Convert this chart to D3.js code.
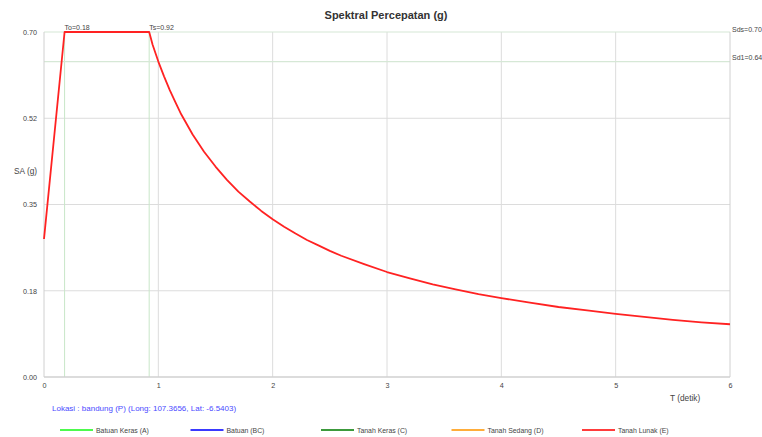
<!DOCTYPE html>
<html><head><meta charset="utf-8">
<script src="https://cdn.jsdelivr.net/npm/d3@7"></script>
<style>body{margin:0;background:#fff}svg{display:block}text{font-family:"Liberation Sans",Arial,sans-serif}</style>
</head><body>
<svg id="c" width="762" height="437"></svg>
<script>
// Data
const periodT = [0, 0.18, 0.92, 0.95, 1.0, 1.05, 1.1, 1.15, 1.2, 1.3, 1.4, 1.5, 1.6, 1.7, 1.8, 1.9, 2.0, 2.1, 2.2, 2.3, 2.4, 2.5, 2.6, 2.8, 3.0, 3.2, 3.4, 3.6, 3.8, 4.0, 4.25, 4.5, 4.75, 5.0, 5.25, 5.5, 5.75, 6.0];
const saValues = [0.28, 0.70, 0.70, 0.674, 0.64, 0.610, 0.582, 0.557, 0.533, 0.492, 0.457, 0.427, 0.400, 0.376, 0.356, 0.337, 0.320, 0.305, 0.291, 0.278, 0.267, 0.256, 0.246, 0.229, 0.213, 0.200, 0.188, 0.178, 0.168, 0.160, 0.151, 0.142, 0.135, 0.128, 0.122, 0.116, 0.111, 0.107];
const xTicks = [0, 1, 2, 3, 4, 5, 6];
const yTicks = [0, 0.175, 0.35, 0.525, 0.70];
const yTickLabels = ["0.00", "0.18", "0.35", "0.52", "0.70"];
const To = 0.18, Ts = 0.92, Sds = 0.70, Sd1 = 0.64;
const legendNames = ["Batuan Keras (A)", "Batuan (BC)", "Tanah Keras (C)", "Tanah Sedang (D)", "Tanah Lunak (E)"];
const legendColors = ["#4dfa4d", "#3a3aff", "#3c9a3c", "#ffad3a", "#ff3c3c"];
const title = "Spektral Percepatan (g)";
const locationText = "Lokasi : bandung (P) (Long: 107.3656, Lat:  -6.5403)";

const svg = d3.select("#c");
const L = 44, R = 730, T0 = 32, B = 377;
const x = d3.scaleLinear().domain([0, 6]).range([L, R]);
const y = d3.scaleLinear().domain([0, 0.70]).range([B, T0]);

// title
svg.append("text").attr("x", 386).attr("y", 19).attr("text-anchor", "middle")
  .attr("font-size", 11).attr("font-weight", "bold").attr("fill", "#333").text(title);

// gridlines
const g = svg.append("g");
g.selectAll(".hg").data(yTicks.slice(1, 4)).enter().append("line")
  .attr("x1", L).attr("x2", R).attr("y1", d => y(d)).attr("y2", d => y(d))
  .attr("stroke", "#dcdcdc").attr("stroke-width", 1);
g.selectAll(".vg").data(xTicks.slice(1, 6)).enter().append("line")
  .attr("x1", d => x(d)).attr("x2", d => x(d)).attr("y1", T0).attr("y2", B)
  .attr("stroke", "#dcdcdc").attr("stroke-width", 1);
// special lines
[To, Ts].forEach(v => g.append("line").attr("x1", x(v)).attr("x2", x(v)).attr("y1", T0).attr("y2", B)
  .attr("stroke", "#c8e6c8").attr("stroke-width", 1));
[Sds, Sd1].forEach(v => g.append("line").attr("x1", L).attr("x2", R).attr("y1", y(v)).attr("y2", y(v))
  .attr("stroke", "#d6e8d6").attr("stroke-width", 1.2));
// frame
g.append("line").attr("x1", L).attr("x2", L).attr("y1", T0).attr("y2", B).attr("stroke", "#d0d0d0");
g.append("line").attr("x1", R).attr("x2", R).attr("y1", T0).attr("y2", B).attr("stroke", "#d0d0d0");
g.append("line").attr("x1", L).attr("x2", R).attr("y1", B).attr("y2", B).attr("stroke", "#d0d0d0").attr("stroke-width", 1.5);

// axes labels
const yAxis = d3.axisLeft(y).tickValues(yTicks).tickFormat((d, i) => yTickLabels[i]).tickSize(0).tickPadding(7);
const ya = svg.append("g").attr("transform", `translate(${L},0)`).call(yAxis);
ya.select(".domain").remove();
ya.selectAll("text").attr("font-size", 7.2).attr("fill", "#444").attr("font-family", "Liberation Sans, Arial, sans-serif");

const xAxis = d3.axisBottom(x).tickValues(xTicks).tickFormat(d3.format("d")).tickSize(0).tickPadding(6);
const xa = svg.append("g").attr("transform", `translate(0,${B})`).call(xAxis);
xa.select(".domain").remove();
xa.selectAll("text").attr("font-size", 7.2).attr("fill", "#444").attr("font-family", "Liberation Sans, Arial, sans-serif");

svg.append("text").attr("x", 14).attr("y", 174).attr("font-size", 8.3).attr("fill", "#444").text("SA (g)");
svg.append("text").attr("x", 670).attr("y", 401).attr("font-size", 8.3).attr("fill", "#444").text("T  (detik)");

// annotations
svg.append("text").attr("x", x(To)).attr("y", 30).attr("font-size", 7).attr("fill", "#444").text("To=" + To.toFixed(2));
svg.append("text").attr("x", x(Ts)).attr("y", 30).attr("font-size", 7).attr("fill", "#444").text("Ts=" + Ts.toFixed(2));
svg.append("text").attr("x", R + 2).attr("y", 32).attr("font-size", 7).attr("fill", "#444").text("Sds=" + Sds.toFixed(2));
svg.append("text").attr("x", R + 2).attr("y", 60).attr("font-size", 7).attr("fill", "#444").text("Sd1=" + Sd1.toFixed(2));

// curve
const pts = periodT.map((t, i) => [t, saValues[i]]);
svg.append("path").datum(pts)
  .attr("d", d3.line().x(d => x(d[0])).y(d => y(d[1])))
  .attr("fill", "none").attr("stroke", "#ff2222").attr("stroke-width", 1.8).attr("stroke-linejoin", "round");

// location
svg.append("text").attr("x", 52).attr("y", 411).attr("font-size", 8).attr("fill", "#4a4aff").text(locationText);

// legend
const lg = svg.selectAll(".lg").data(legendNames).enter().append("g")
  .attr("transform", (d, i) => `translate(${60 + i * 130.5},430)`);
lg.append("line").attr("x1", 0).attr("x2", 33).attr("y1", 0).attr("y2", 0)
  .attr("stroke", (d, i) => legendColors[i]).attr("stroke-width", 1.8);
lg.append("text").attr("x", 36).attr("y", 3).attr("font-size", 6.9).attr("fill", "#444").text(d => d);
</script>
</body></html>
